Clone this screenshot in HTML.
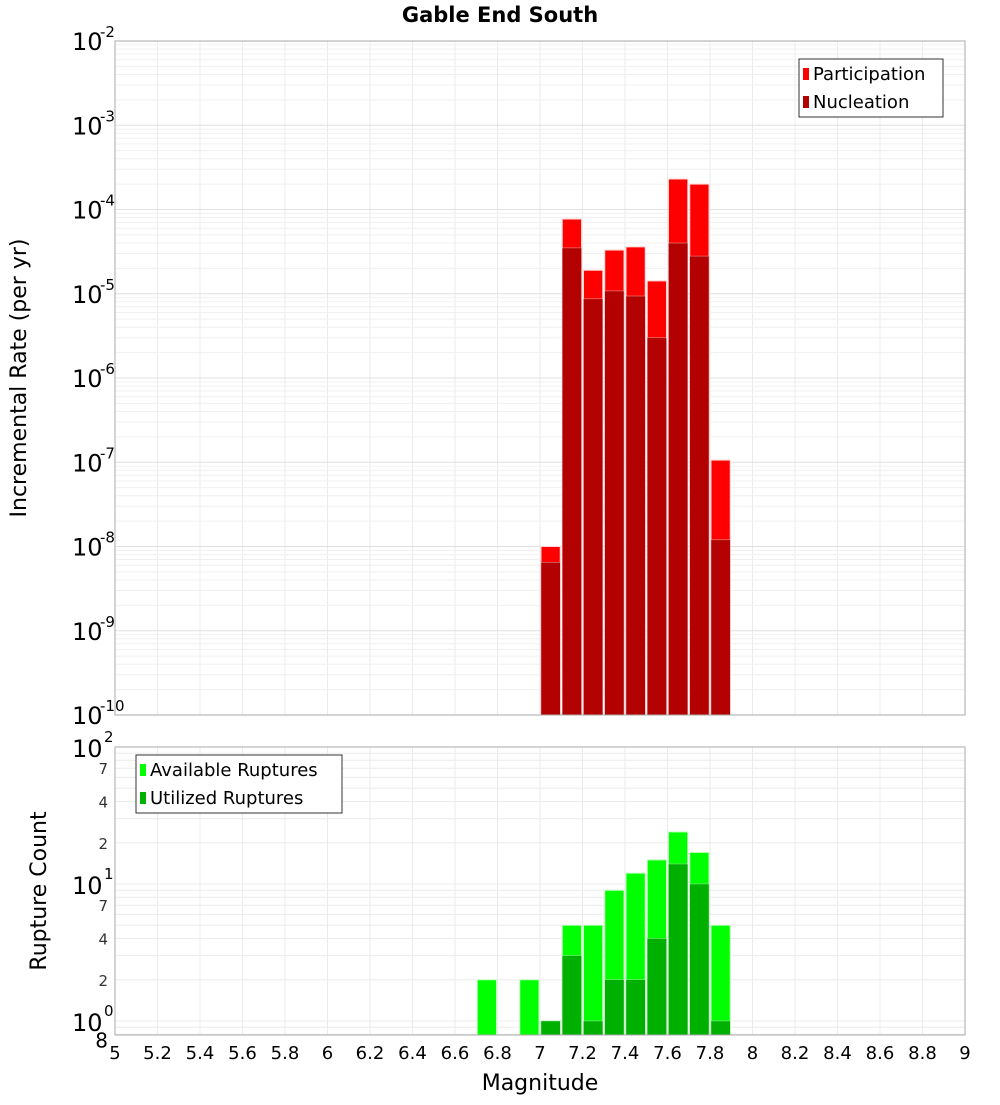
<!DOCTYPE html>
<html><head><meta charset="utf-8"><style>
body{margin:0;background:#fff}
svg text{font-family:"DejaVu Sans","Liberation Sans",sans-serif}
</style></head><body>
<svg id="c" width="1000" height="1100" xmlns="http://www.w3.org/2000/svg"></svg>
<script>
const binCenters=[7.05,7.15,7.25,7.35,7.45,7.55,7.65,7.75,7.85];
const participation=[1.0e-8,7.7e-5,1.9e-5,3.3e-5,3.6e-5,1.42e-5,2.3e-4,2.0e-4,1.06e-7];
const nucleation=[6.5e-9,3.5e-5,8.7e-6,1.08e-5,9.4e-6,3.0e-6,4.0e-5,2.8e-5,1.2e-8];
const countBins=[6.75,6.95,7.05,7.15,7.25,7.35,7.45,7.55,7.65,7.75,7.85];
const available=[2,2,1,5,5,9,12,15,24,17,5];
const utilized=[0,0,1,3,1,2,2,4,14,10,1];
const xTicks=[5,5.2,5.4,5.6,5.8,6,6.2,6.4,6.6,6.8,7,7.2,7.4,7.6,7.8,8,8.2,8.4,8.6,8.8,9];
const topDecades=[-2,-3,-4,-5,-6,-7,-8,-9,-10];

const svg=document.getElementById('c');
const NS='http://www.w3.org/2000/svg';
function mk(tag,attrs,parent){const e=document.createElementNS(NS,tag);for(const k in attrs)e.setAttribute(k,attrs[k]);(parent||svg).appendChild(e);return e;}
const L=115,R=965;
const xs=m=>L+(m-5)/4*(R-L);
const T1=41,B1=715;
const y1=v=>T1+(-2-Math.log10(v))/8*(B1-T1);
const T2=747,B2=1035;
const y2=v=>1021-Math.log10(v)*137;

// plot backgrounds
let g=mk('g',{});
for(const t of xTicks){mk('line',{x1:xs(t),x2:xs(t),y1:T1,y2:B1,stroke:'#ebebeb'},g);mk('line',{x1:xs(t),x2:xs(t),y1:T2,y2:B2,stroke:'#ebebeb'},g);}
for(let d=-10;d<-2;d++)for(let k=1;k<10;k++){const y=y1(k*Math.pow(10,d));mk('line',{x1:L,x2:R,y1:y,y2:y,stroke:k==1?'#e0e0e0':'#f0f0f0'},g);}
for(let d=-1;d<2;d++)for(let k=1;k<10;k++){const v=k*Math.pow(10,d);const y=y2(v);if(y<T2||y>B2)continue;mk('line',{x1:L,x2:R,y1:y,y2:y,stroke:'#ececec'},g);}

// top bars
const bw=xs(0.1)-xs(0)-2;
binCenters.forEach((m,i)=>{
 let r=mk('rect',{x:xs(m)-bw/2,y:y1(participation[i]),width:bw,height:B1-y1(participation[i]),fill:'#ff0000',stroke:'#ffd0d0','stroke-width':1});
 
 r=mk('rect',{x:xs(m)-bw/2,y:y1(nucleation[i]),width:bw,height:B1-y1(nucleation[i]),fill:'#b30000',stroke:'#e0b0b0','stroke-width':0.5});
 
});
countBins.forEach((m,i)=>{
 if(available[i]>0){let r=mk('rect',{x:xs(m)-bw/2,y:y2(available[i]),width:bw,height:B2-y2(available[i]),fill:'#00ff00',stroke:'#c0ffc0','stroke-width':1});
 }
 if(utilized[i]>0){let r=mk('rect',{x:xs(m)-bw/2,y:y2(utilized[i]),width:bw,height:B2-y2(utilized[i]),fill:'#00b000',stroke:'#a0e0a0','stroke-width':0.5});
 }
});
mk('rect',{x:L,y:T1,width:R-L,height:B1-T1,fill:'none',stroke:'#aaa'});
mk('rect',{x:L,y:T2,width:R-L,height:B2-T2,fill:'none',stroke:'#aaa'});

// title
let t=mk('text',{x:500,y:22,'text-anchor':'middle','font-size':21,'font-weight':'bold'});t.textContent='Gable End South';


// top y ticks
topDecades.forEach(d=>{
 const y=y1(Math.pow(10,d));
 let tx=mk('text',{x:72,y:y+9,'font-size':24});tx.textContent='10';
 
 let s=mk('text',{x:100,y:y-4,'font-size':15});s.textContent=String(d);
});
// bottom y ticks
[[100,'2'],[10,'1'],[1,'0']].forEach(([v,e])=>{const y=y2(v);
 let tx=mk('text',{x:72,y:y+10,'font-size':24});tx.textContent='10';
 
 let s=mk('text',{x:104,y:y-5,'font-size':15});s.textContent=e;});
[7,4,2,70,40,20,0.8].forEach(v=>{const y=y2(v);
 let tx=mk('text',{x:108,y:y+(v==0.8?13:6),'font-size':v==0.8?20:15,'text-anchor':'end',fill:v==0.8?'#000':'#333'});tx.textContent=String(v<1?8:(v>=10?v/10:v));
 });

// x ticks
xTicks.forEach(v=>{let tx=mk('text',{x:xs(v),y:1059,'font-size':18,'text-anchor':'middle'});tx.textContent=String(v);
 });
t=mk('text',{x:540,y:1090,'font-size':22,'text-anchor':'middle'});t.textContent='Magnitude';

t=mk('text',{x:0,y:0,'font-size':22,'text-anchor':'middle',transform:'translate(26,378) rotate(-90)'});t.textContent='Incremental Rate (per yr)';

t=mk('text',{x:0,y:0,'font-size':22,'text-anchor':'middle',transform:'translate(46,891) rotate(-90)'});t.textContent='Rupture Count';


// legends
function legend(x,y,w,items,name){const lg=mk('g',{});
 mk('rect',{x:x,y:y,width:w,height:58,fill:'#fff',stroke:'#333'},lg);
 items.forEach(([c,l],i)=>{mk('rect',{x:x+4,y:y+9+i*28,width:6,height:12,fill:c},lg);
  const tt=mk('text',{x:x+14,y:y+21+i*28,'font-size':18},lg);tt.textContent=l;});}
legend(799,59,144,[['#ff0000','Participation'],['#b30000','Nucleation']],'top-legend');
legend(136,755,206,[['#00ff00','Available Ruptures'],['#00b000','Utilized Ruptures']],'bottom-legend');
</script>
</body></html>
